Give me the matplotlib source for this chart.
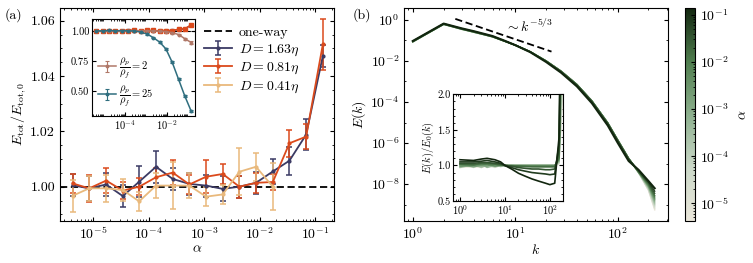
import numpy as np
import matplotlib
matplotlib.use('Agg')
import matplotlib.pyplot as plt
from matplotlib.colors import LinearSegmentedColormap, LogNorm
from matplotlib.ticker import LogLocator, MultipleLocator, NullFormatter
from matplotlib.cm import ScalarMappable

plt.rcParams['font.family'] = 'serif'
plt.rcParams['font.serif'] = ['cmr10', 'DejaVu Serif']
plt.rcParams['mathtext.fontset'] = 'cm'
plt.rcParams['axes.formatter.use_mathtext'] = True
plt.rcParams['axes.unicode_minus'] = False
plt.rcParams['xtick.direction'] = 'in'
plt.rcParams['ytick.direction'] = 'in'
plt.rcParams['xtick.top'] = True
plt.rcParams['ytick.right'] = True
plt.rcParams['xtick.major.size'] = 3
plt.rcParams['ytick.major.size'] = 3
plt.rcParams['xtick.minor.size'] = 1.6
plt.rcParams['ytick.minor.size'] = 1.6
plt.rcParams['axes.linewidth'] = 0.8

# ---- (a) dati: energia totale vs alpha ----
alpha = [4.2e-6, 8.4e-6, 1.7e-5, 3.4e-5, 6.7e-5, 1.35e-4, 2.7e-4, 5.4e-4,
         1.08e-3, 2.16e-3, 4.3e-3, 8.6e-3, 1.73e-2, 3.45e-2, 6.9e-2, 0.138]
e_163 = [1.0005, 0.9994, 1.0008, 0.9966, 1.0018, 1.0072, 1.0028, 1.0010,
         1.0004, 0.9992, 1.0000, 1.0014, 1.0055, 1.0094, 1.0188, 1.0472]
err_163 = [0.004, 0.0045, 0.004, 0.004, 0.0055, 0.0058, 0.004, 0.004,
           0.004, 0.0045, 0.004, 0.004, 0.0045, 0.005, 0.0055, 0.004]
e_081 = [1.0012, 0.9994, 1.0022, 0.9986, 1.0000, 1.0034, 1.0051, 1.0008,
         1.0036, 1.0046, 1.0000, 1.0014, 1.0017, 1.0157, 1.0181, 1.0514]
err_081 = [0.0035, 0.005, 0.0045, 0.003, 0.003, 0.0035, 0.0045, 0.0035,
           0.006, 0.0035, 0.004, 0.0035, 0.003, 0.0048, 0.0045, 0.0092]
e_041 = [0.9967, 0.9994, 0.9994, 0.9988, 0.9947, 1.0004, 1.0004, 1.0004,
         0.9964, 0.9972, 1.0054, 1.0072, 1.0000]
err_041 = [0.0057, 0.0045, 0.005, 0.004, 0.0035, 0.0045, 0.0085, 0.0045,
           0.0035, 0.0035, 0.0085, 0.005, 0.0085]
# inset: diversi rapporti di densita'
e_rho2 = [1.0, 1.0, 0.998, 1.0, 1.0, 1.0, 1.0, 1.0, 1.0, 1.0, 0.998, 0.995,
          0.985, 0.97, 0.935, 0.903]
e_rho25 = [1.0, 1.0, 1.004, 1.0, 1.003, 1.0, 1.0, 0.99, 0.975, 0.944, 0.907,
           0.85, 0.737, 0.596, 0.455, 0.33]
err_rho = [0.006, 0.006, 0.006, 0.006, 0.006, 0.006, 0.006, 0.006, 0.006,
           0.006, 0.006, 0.006, 0.008, 0.008, 0.01, 0.01]

# ---- (b) dati: spettro di energia ----
k = [1, 2, 3, 4, 6, 8, 10, 14, 20, 28, 40, 56, 80, 100, 128, 160, 200, 230]
logE0 = [-1.06, -0.21, -0.45, -0.6, -0.82, -1.05, -1.23, -1.55, -2.0, -2.5,
         -3.15, -3.95, -5.02, -5.85, -6.75, -7.45, -8.65, -9.6]
ratio = [
    [0.97, 0.98, 0.97, 0.99, 0.98, 0.99, 1.00, 1.00, 1.00, 1.00, 1.00, 1.00, 1.00, 1.00, 1.00, 1.02, 2.2, 2.2],
    [1.02, 0.99, 1.01, 0.98, 1.00, 0.99, 1.00, 1.00, 1.00, 1.00, 1.00, 1.00, 1.00, 1.00, 1.00, 1.03, 2.3, 2.5],
    [0.99, 1.03, 0.98, 1.00, 0.97, 1.00, 1.00, 1.00, 1.00, 1.00, 1.00, 1.00, 1.00, 1.00, 1.00, 1.03, 2.4, 2.8],
    [1.01, 0.97, 1.02, 0.99, 1.01, 0.98, 1.00, 1.00, 1.00, 1.00, 1.00, 1.00, 1.00, 1.00, 1.00, 1.04, 2.5, 3.2],
    [0.98, 1.00, 0.99, 1.02, 0.99, 1.01, 1.00, 1.00, 1.00, 1.00, 1.00, 1.00, 1.00, 1.00, 1.00, 1.04, 2.6, 3.6],
    [1.03, 0.98, 1.00, 0.98, 1.02, 0.99, 1.00, 1.00, 1.00, 1.00, 1.00, 1.00, 1.00, 1.00, 1.00, 1.05, 2.8, 4.1],
    [0.97, 1.01, 0.97, 1.01, 0.98, 1.00, 1.00, 1.00, 1.00, 1.00, 1.00, 1.00, 1.00, 1.00, 1.00, 1.05, 3.0, 4.7],
    [1.00, 0.99, 1.02, 0.97, 1.00, 0.99, 1.00, 1.00, 1.00, 1.00, 1.00, 1.00, 1.00, 1.00, 1.00, 1.06, 3.2, 5.4],
    [0.98, 1.02, 0.99, 1.01, 0.99, 1.01, 1.00, 1.00, 1.00, 1.00, 1.00, 1.00, 1.00, 1.00, 1.00, 1.07, 3.4, 6.2],
    [1.01, 0.98, 1.00, 0.99, 1.02, 1.00, 1.00, 1.00, 1.00, 1.00, 1.00, 1.00, 1.00, 1.00, 1.00, 1.08, 3.6, 7.1],
    [0.99, 1.00, 1.01, 1.02, 0.99, 1.00, 1.00, 1.00, 1.00, 1.00, 1.00, 1.00, 1.00, 1.00, 1.00, 1.09, 3.9, 8.2],
    [1.01, 1.01, 1.02, 1.01, 1.01, 1.00, 1.00, 1.00, 0.995, 0.99, 0.99, 0.99, 0.99, 0.99, 0.99, 1.10, 4.2, 9.5],
    [1.02, 1.01, 1.03, 1.03, 1.02, 1.01, 1.00, 0.99, 0.99, 0.985, 0.98, 0.98, 0.98, 0.98, 0.98, 1.12, 4.6, 11],
    [1.03, 1.03, 1.04, 1.04, 1.03, 1.02, 1.00, 0.99, 0.97, 0.96, 0.95, 0.95, 0.94, 0.94, 0.95, 1.2, 5.1, 14],
    [1.05, 1.05, 1.06, 1.07, 1.05, 1.03, 1.00, 0.97, 0.94, 0.92, 0.90, 0.89, 0.88, 0.87, 0.88, 1.3, 5.7, 18],
    [1.08, 1.07, 1.09, 1.10, 1.08, 1.05, 1.00, 0.95, 0.89, 0.85, 0.81, 0.78, 0.75, 0.73, 0.75, 1.4, 6.3, 25],
]
k_slope = [2.6, 22.6]
E_slope = [1.12, 0.0285]

c_163 = '#3b3a64'
c_081 = '#db4a1c'
c_041 = '#e9b97c'
c_rho2 = '#b07868'
c_rho25 = '#2f6e7f'
cmap = LinearSegmentedColormap.from_list('verdi', ['#ebe7db', '#cbd8c8', '#8db08e', '#4f7d4e', '#12260f'])
norm = LogNorm(4.2e-6, 0.14)

fig = plt.figure(figsize=(7.53, 2.63), dpi=100)

''' PANNELLO (a) '''
ax = fig.add_axes([0.0797, 0.1597, 0.3639, 0.81])
ax.axhline(1.0, color='k', ls='--', lw=1.3, dashes=(4, 2), label='one-way', zorder=1)
eb = dict(capsize=2.5, elinewidth=1.1, capthick=1.1, marker='o', ms=2, lw=1.3)
ax.errorbar(alpha, e_163, yerr=err_163, color=c_163, label=r'$D=1.63\eta$', **eb)
ax.errorbar(alpha, e_081, yerr=err_081, color=c_081, label=r'$D=0.81\eta$', **eb)
ax.errorbar(alpha[:13], e_041, yerr=err_041, color=c_041, label=r'$D=0.41\eta$', **eb)
ax.set_xscale('log')
ax.set_xlim(2.5e-6, 0.22)
ax.set_ylim(0.9876, 1.0646)
ax.set_yticks([1.00, 1.02, 1.04, 1.06])
ax.set_yticklabels(['1.00', '1.02', '1.04', '1.06'])
ax.yaxis.set_minor_locator(MultipleLocator(0.005))
ax.xaxis.set_major_locator(LogLocator(base=10, numticks=10))
ax.xaxis.set_minor_locator(LogLocator(base=10, subs=np.arange(2, 10), numticks=20))
ax.xaxis.set_minor_formatter(NullFormatter())
ax.tick_params(labelsize=10)
ax.set_xlabel(r'$\alpha$', fontsize=10, labelpad=1)
ax.set_ylabel(r'$E_{\mathrm{tot}}/E_{\mathrm{tot},0}$', fontsize=10, labelpad=2)
ax.legend(loc='upper left', bbox_to_anchor=(0.525, 0.915), frameon=False, fontsize=10,
          borderpad=0, borderaxespad=0, labelspacing=0.25, handlelength=2.0, handletextpad=0.5)
fig.text(0.006, 0.93, '(a)', fontsize=10)

# inset (a)
axi = fig.add_axes([0.1222, 0.559, 0.1368, 0.369])
axi.axhline(1.0, color='k', ls='--', lw=0.8, zorder=1)
ebi = dict(capsize=1.5, elinewidth=0.8, capthick=0.8, marker='o', ms=1.8, lw=1.1)
axi.errorbar(alpha, e_rho2, yerr=err_rho, color=c_rho2, label=r'$\dfrac{\rho_p}{\rho_f}=2$', **ebi)
axi.errorbar(alpha, e_rho25, yerr=err_rho, color=c_rho25, label=r'$\dfrac{\rho_p}{\rho_f}=25$', **ebi)
axi.plot(alpha, e_163, color=c_163, marker='s', ms=1.8, lw=1.0)
axi.plot(alpha[:13], e_041, color=c_041, marker='s', ms=1.8, lw=1.0)
axi.plot(alpha, e_081, color=c_081, marker='s', ms=2.2, lw=1.0)
axi.set_xscale('log')
axi.set_xlim(2.6e-6, 0.21)
axi.set_ylim(0.29, 1.10)
axi.set_yticks([0.5, 0.75, 1.0])
axi.set_yticklabels(['0.50', '0.75', '1.00'])
axi.set_xticks([1e-4, 1e-2])
axi.xaxis.set_minor_locator(LogLocator(base=10, subs=np.arange(2, 10), numticks=20))
axi.xaxis.set_minor_formatter(NullFormatter())
axi.tick_params(labelsize=7.5, pad=2)
axi.legend(loc='lower left', bbox_to_anchor=(0.06, 0.08), frameon=False, fontsize=7.5,
           borderpad=0, borderaxespad=0, labelspacing=0.3, handlelength=1.7, handletextpad=0.3)

''' PANNELLO (b) '''
axb = fig.add_axes([0.5365, 0.1597, 0.3506, 0.81])
axr = fig.add_axes([0.602, 0.2357, 0.146, 0.4057])
for i in range(len(alpha)):
    col = cmap(norm(alpha[i]))
    Ek = 10**np.array(logE0) * np.array(ratio[i])
    axb.plot(k, Ek, color=col, lw=1.0 + 0.5 * (i == len(alpha) - 1))
    axr.plot(k, ratio[i], color=col, lw=0.9 + 0.3 * (i >= 12))
axb.plot(k_slope, E_slope, color='k', ls='--', lw=1.3, dashes=(4, 2))
axb.text(7.9, 0.5, r'$\sim k^{-5/3}$', fontsize=10, ha='left', va='center')
axb.set_xscale('log')
axb.set_yscale('log')
axb.set_xlim(0.82, 310)
axb.set_ylim(1.6e-10, 3.8)
axb.yaxis.set_major_locator(LogLocator(base=100, numticks=10))
axb.yaxis.set_minor_locator(LogLocator(base=10, subs=[1.0], numticks=20))
axb.yaxis.set_minor_formatter(NullFormatter())
axb.xaxis.set_minor_locator(LogLocator(base=10, subs=np.arange(2, 10), numticks=20))
axb.xaxis.set_minor_formatter(NullFormatter())
axb.tick_params(labelsize=10)
axb.set_xlabel(r'$k$', fontsize=10, labelpad=1)
axb.set_ylabel(r'$E(k)$', fontsize=10, labelpad=2)
fig.text(0.468, 0.93, '(b)', fontsize=10)

axr.set_xscale('log')
axr.set_xlim(0.71, 198)
axr.set_ylim(0.5, 2.0)
axr.set_yticks([0.5, 1.0, 1.5, 2.0])
axr.set_yticklabels(['0.5', '1.0', '1.5', '2.0'])
axr.yaxis.set_minor_locator(MultipleLocator(0.1))
axr.xaxis.set_minor_locator(LogLocator(base=10, subs=np.arange(2, 10), numticks=20))
axr.xaxis.set_minor_formatter(NullFormatter())
axr.tick_params(labelsize=7.5, pad=2)
axr.set_ylabel(r'$E(k)/E_0(k)$', fontsize=7.5, labelpad=1)

# colorbar
cax = fig.add_axes([0.9097, 0.1597, 0.0133, 0.81])
cb = fig.colorbar(ScalarMappable(norm=norm, cmap=cmap), cax=cax)
cb.set_ticks([1e-5, 1e-4, 1e-3, 1e-2, 1e-1])
cb.ax.tick_params(labelsize=10, direction='in', which='both')
cb.outline.set_linewidth(0.8)
cb.set_label(r'$\alpha$', fontsize=10, labelpad=6)

plt.savefig('out.png', dpi=100)
